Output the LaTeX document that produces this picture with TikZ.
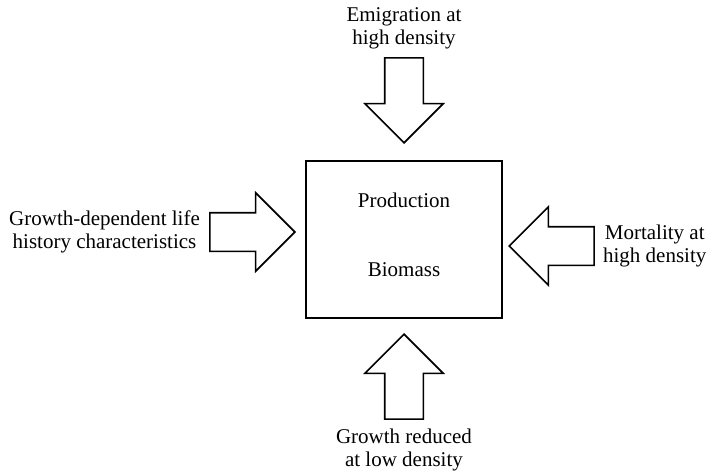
\documentclass[tikz,border=0pt]{standalone}
\usepackage{fontspec}
\setmainfont{Liberation Serif}
\usetikzlibrary{positioning,shapes.arrows}

\begin{document}
\begin{tikzpicture}
[x=1pt, y=1pt,
pool/.style={rectangle, draw, line width=2pt, minimum width=196pt, minimum height=157pt, inner sep=0pt},
bigarrow/.style={single arrow, draw, line width=1.6pt, fill=white, inner sep=0pt, text height=18.5pt, text depth=18.5pt, minimum height=85pt, minimum width=77pt, single arrow head extend=20pt, single arrow head indent=0pt},
lbl/.style={align=center, inner sep=0pt, font=\fontsize{21}{23}\selectfont}]

	\useasboundingbox (0,0) rectangle (708,-473);

	\node (pool) at (404,-239.5) [pool] {};
	\node (prod) at (404,-200) [lbl] {Production};
	\node (bio) at (404,-270) [lbl] {Biomass};

	% arrows into the box
	\node (emig) [bigarrow, rotate=-90, above=16pt of pool.north, anchor=tip] {};
	\node (life) [bigarrow, left=9pt of pool.west, yshift=7.5pt, anchor=tip] {};
	\node (mort) [bigarrow, rotate=180, right=5pt of pool.east, yshift=6.5pt, anchor=tip] {};
	\node (grow) [bigarrow, rotate=90, below=14pt of pool.south, anchor=tip] {};

	% labels
	\node (emigtxt) [lbl, above=8pt of emig.tail] {Emigration at\\high density};
	\node (lifetxt) [lbl, left=9pt of life.tail] {Growth-dependent life\\history characteristics};
	\node (morttxt) [lbl, right=8pt of mort.tail] {Mortality at\\high density};
	\node (growtxt) [lbl, below=9pt of grow.tail] {Growth reduced\\at low density};

\end{tikzpicture}
\end{document}
